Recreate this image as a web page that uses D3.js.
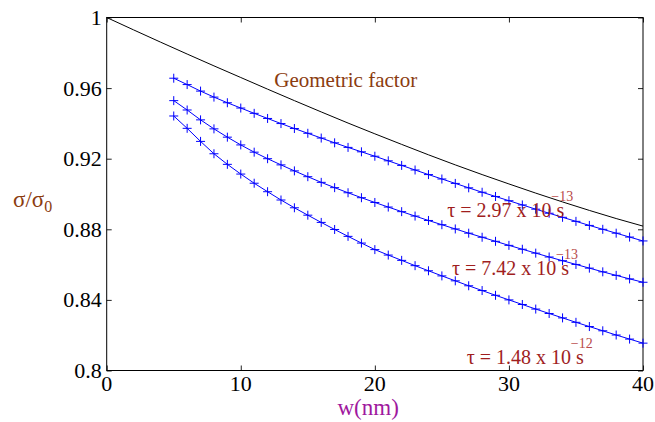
<!DOCTYPE html>
<html>
<head>
<meta charset="utf-8">
<script src="https://cdnjs.cloudflare.com/ajax/libs/d3/7.8.5/d3.min.js"></script>
<style>
  body { margin: 0; background: #fff; }
  svg { display: block; }
  text { font-family: "Liberation Serif", "DejaVu Serif", serif; }
</style>
</head>
<body>
<svg id="svg1" width="655" height="422"></svg>
<script>
var width = 655;
var height = 422;

// plot box in pixels
var marginLeft = 106.7;
var marginRight = 12;
var marginTop = 17.5;
var marginBottom = 51.5;

// w (nm) where the simulated points sit
var wPoints = [5, 6, 7, 8, 9, 10, 11, 12, 13, 14, 15, 16, 17, 18, 19, 20, 21, 22,
    23, 24, 25, 26, 27, 28, 29, 30, 31, 32, 33, 34, 35, 36, 37, 38, 39, 40];

// sigma/sigma0 for each relaxation time
var tau297 = [0.9656, 0.9620, 0.9583, 0.9549, 0.9517, 0.9487, 0.9457, 0.9428, 0.9399,
    0.9371, 0.9344, 0.9317, 0.9290, 0.9264, 0.9239, 0.9214, 0.9188, 0.9162, 0.9136,
    0.9110, 0.9085, 0.9060, 0.9035, 0.9010, 0.8986, 0.8962, 0.8938, 0.8914, 0.8891,
    0.8868, 0.8845, 0.8822, 0.8800, 0.8778, 0.8756, 0.8734];
var tau742 = [0.9529, 0.9476, 0.9420, 0.9369, 0.9322, 0.9278, 0.9237, 0.9200, 0.9165,
    0.9131, 0.9098, 0.9066, 0.9036, 0.9007, 0.8979, 0.8952, 0.8926, 0.8900, 0.8875,
    0.8850, 0.8826, 0.8802, 0.8778, 0.8755, 0.8732, 0.8709, 0.8687, 0.8665, 0.8643,
    0.8622, 0.8601, 0.8580, 0.8559, 0.8539, 0.8519, 0.8500];
var tau148 = [0.9442, 0.9372, 0.9298, 0.9228, 0.9168, 0.9113, 0.9061, 0.9013, 0.8966,
    0.8922, 0.8880, 0.8839, 0.8799, 0.8760, 0.8722, 0.8685, 0.8654, 0.8624, 0.8594,
    0.8565, 0.8536, 0.8508, 0.8480, 0.8453, 0.8426, 0.8400, 0.8374, 0.8348, 0.8323,
    0.8298, 0.8273, 0.8249, 0.8225, 0.8201, 0.8178, 0.8155];

// geometric factor curve
var geoW = [0, 2, 4, 6, 8, 10, 12, 14, 16, 18, 20, 22, 24, 26, 28, 30, 32, 34, 36, 38, 40];
var geoSigma = [1.0, 0.9930, 0.9861, 0.9793, 0.9726, 0.9660, 0.9594, 0.9529, 0.9465,
    0.9402, 0.9341, 0.9281, 0.9222, 0.9165, 0.9110, 0.9057, 0.9005, 0.8955, 0.8907,
    0.8861, 0.8818];

var xTicks = [0, 10, 20, 30, 40];
var yTicks = [0.8, 0.84, 0.88, 0.92, 0.96, 1];

// label anchors (w, sigma) and exponents
var labelMain = ['\u03c4 = 2.97 x 10 s', '\u03c4 = 7.42 x 10 s', '\u03c4 = 1.48 x 10 s'];
var labelExp = ['\u221213', '\u221213', '\u221212'];
var labelW = [25.4, 25.75, 26.85];
var labelSigma = [0.8871, 0.8541, 0.8037];

var svg = d3.select('svg');

var x = d3.scaleLinear().domain([0, 40]).range([marginLeft, width - marginRight]);
var y = d3.scaleLinear().domain([0.8, 1]).range([height - marginBottom, marginTop]);

var x0 = x(0), x1 = x(40), y0 = y(0.8), y1 = y(1);

// inward ticks on all four sides
svg.append('g')
    .attr('transform', 'translate(0,' + y0 + ')')
    .call(d3.axisTop(x).tickValues(xTicks).tickSize(5).tickFormat(''))
    .call(function (g) { g.select('.domain').remove(); });
svg.append('g')
    .attr('transform', 'translate(0,' + y1 + ')')
    .call(d3.axisBottom(x).tickValues(xTicks).tickSize(5).tickFormat(''))
    .call(function (g) { g.select('.domain').remove(); });
svg.append('g')
    .attr('transform', 'translate(' + x0 + ',0)')
    .call(d3.axisRight(y).tickValues(yTicks).tickSize(5).tickFormat(''))
    .call(function (g) { g.select('.domain').remove(); });
svg.append('g')
    .attr('transform', 'translate(' + x1 + ',0)')
    .call(d3.axisLeft(y).tickValues(yTicks).tickSize(5).tickFormat(''))
    .call(function (g) { g.select('.domain').remove(); });

svg.selectAll('.tick line').attr('stroke', '#222');

// box
svg.append('rect')
    .attr('x', x0).attr('y', y1)
    .attr('width', x1 - x0).attr('height', y0 - y1)
    .attr('fill', 'none').attr('stroke', 'black').attr('stroke-width', 1);

// tick labels
svg.selectAll('.xlab')
    .data(xTicks)
    .enter()
    .append('text')
    .attr('class', 'xlab')
    .attr('x', function (d) { return x(d); })
    .attr('y', y0 + 20)
    .attr('text-anchor', 'middle')
    .attr('font-size', 22)
    .text(function (d) { return d; });

svg.selectAll('.ylab')
    .data(yTicks)
    .enter()
    .append('text')
    .attr('class', 'ylab')
    .attr('x', x0 - 5)
    .attr('y', function (d) { return y(d) + 7.5; })
    .attr('text-anchor', 'end')
    .attr('font-size', 22)
    .text(function (d) { return d; });

// axis titles
svg.append('text')
    .attr('x', x(19.5))
    .attr('y', 415)
    .attr('text-anchor', 'middle')
    .attr('font-size', 23)
    .attr('fill', '#a0189e')
    .text('w(nm)');

var yTitle = svg.append('text')
    .attr('x', 13)
    .attr('y', 207)
    .attr('font-size', 23)
    .attr('fill', '#8b3c10');
yTitle.append('tspan').text('\u03c3/\u03c3');
yTitle.append('tspan').attr('font-size', 16).attr('dy', 5).text('0');

// geometric factor
var line = d3.line()
    .x(function (d) { return x(d[0]); })
    .y(function (d) { return y(d[1]); });

svg.append('path')
    .datum(d3.zip(geoW, geoSigma))
    .attr('d', line.curve(d3.curveMonotoneX))
    .attr('fill', 'none')
    .attr('stroke', 'black')
    .attr('stroke-width', 1);

svg.append('text')
    .attr('x', x(12.5))
    .attr('y', 87.3)
    .attr('font-size', 21)
    .attr('fill', '#8b3c10')
    .text('Geometric factor');

// simulated series: line + plus markers
[tau297, tau742, tau148].forEach(function (vals) {
    var pts = d3.zip(wPoints, vals);
    svg.append('path')
        .datum(pts)
        .attr('d', line.curve(d3.curveLinear))
        .attr('fill', 'none')
        .attr('stroke', '#0000ff')
        .attr('stroke-width', 1);

    svg.append('g').selectAll('path')
        .data(pts)
        .enter()
        .append('path')
        .attr('d', function (d) {
            var cx = x(d[0]), cy = y(d[1]), r = 4.5;
            return 'M' + (cx - r) + ',' + cy + 'H' + (cx + r) +
                'M' + cx + ',' + (cy - r) + 'V' + (cy + r);
        })
        .attr('stroke', '#0000ff')
        .attr('stroke-width', 1);
});

// tau annotations
labelMain.forEach(function (t, i) {
    var lx = x(labelW[i]), ly = y(labelSigma[i]);
    var main = svg.append('text')
        .attr('x', lx)
        .attr('y', ly)
        .attr('font-size', 20)
        .attr('fill', '#a01e1e')
        .text(t);
    var len = main.node().getComputedTextLength();
    svg.append('text')
        .attr('x', lx + len - 13)
        .attr('y', ly - 16)
        .attr('font-size', 14)
        .attr('fill', '#b84a4a')
        .text(labelExp[i]);
});
</script>
</body>
</html>
